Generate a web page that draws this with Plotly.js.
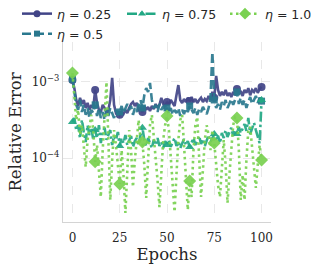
<!DOCTYPE html>
<html><head><meta charset="utf-8">
<script src="https://cdn.plot.ly/plotly-3.0.1.min.js"></script>
<style>html,body{margin:0;padding:0;background:#fff}</style>
</head><body><div id="chart" style="width:319px;height:266px"></div>
<script>
const epochs = Array.from({length: 101}, (_, i) => i);
const markIdx = [0, 12, 25, 37, 50, 62, 75, 87, 100];
const labels = ['<i>η</i> = 0.25', '<i>η</i> = 0.5', '<i>η</i> = 0.75', '<i>η</i> = 1.0'];
const eta025 = [1.06e-3,8.3e-4,5.8e-4,4.83e-4,6.2e-4,5.14e-4,5.8e-4,4.55e-4,5.3e-4,4.3e-4,
5.0e-4,4.55e-4,7.85e-4,5.3e-4,4.3e-4,4.03e-4,5.0e-4,4.55e-4,3.9e-4,4.3e-4,
5.8e-4,1.13e-3,5.0e-4,3.9e-4,4.03e-4,3.7e-4,4.03e-4,3.79e-4,4.3e-4,3.9e-4,
4.55e-4,5.14e-4,5.45e-4,4.83e-4,5.3e-4,4.3e-4,4.55e-4,4.03e-4,4.83e-4,4.3e-4,
4.69e-4,4.15e-4,4.83e-4,4.41e-4,5.14e-4,4.55e-4,5.0e-4,6.2e-4,5.14e-4,4.69e-4,
5.45e-4,5.0e-4,5.8e-4,5.3e-4,4.83e-4,6.7e-4,9.1e-4,5.8e-4,5.3e-4,5.97e-4,
5.45e-4,6.2e-4,5.6e-4,6.35e-4,5.45e-4,5.97e-4,5.3e-4,5.8e-4,6.2e-4,5.45e-4,
5.97e-4,5.6e-4,6.55e-4,5.8e-4,7.4e-4,6.2e-4,1.2e-3,7.85e-4,6.55e-4,7.4e-4,
6.7e-4,7.85e-4,6.55e-4,7.2e-4,6.35e-4,7.4e-4,6.7e-4,8.1e-4,6.95e-4,7.6e-4,
6.55e-4,7.85e-4,7.2e-4,8.3e-4,6.7e-4,7.85e-4,7.4e-4,8.3e-4,7.2e-4,8.1e-4,8.6e-4];
const eta05 = [1.09e-3,6.7e-4,5.0e-4,4.3e-4,5.8e-4,4.03e-4,5.0e-4,3.7e-4,4.55e-4,3.36e-4,
4.3e-4,3.9e-4,5.0e-4,3.57e-4,4.55e-4,3.36e-4,4.03e-4,3.16e-4,4.3e-4,3.57e-4,
4.55e-4,3.9e-4,3.36e-4,4.3e-4,3.7e-4,4.03e-4,4.83e-4,3.9e-4,4.41e-4,5.14e-4,
4.3e-4,4.83e-4,3.7e-4,4.55e-4,4.03e-4,5.14e-4,5.8e-4,4.55e-4,6.7e-4,8.3e-4,
7.4e-4,9.7e-4,5.8e-4,4.55e-4,5.0e-4,4.03e-4,5.14e-4,4.3e-4,4.83e-4,4.03e-4,
4.55e-4,3.79e-4,4.55e-4,3.7e-4,4.3e-4,3.9e-4,4.55e-4,3.57e-4,4.3e-4,3.79e-4,
4.55e-4,4.03e-4,4.83e-4,4.3e-4,3.9e-4,4.55e-4,3.7e-4,4.41e-4,4.03e-4,4.69e-4,
4.3e-4,3.79e-4,4.55e-4,6.2e-4,2.48e-3,5.8e-4,4.55e-4,5.14e-4,4.3e-4,5.45e-4,
4.83e-4,5.8e-4,4.55e-4,5.3e-4,5.97e-4,5.0e-4,5.8e-4,7.4e-4,5.14e-4,6.2e-4,
5.0e-4,5.8e-4,4.55e-4,5.45e-4,6.35e-4,5.14e-4,5.8e-4,6.55e-4,5.3e-4,6.2e-4,5.6e-4];
const eta075 = [2.98e-4,3.36e-4,2.33e-4,2.7e-4,1.83e-4,3.16e-4,2.2e-4,1.62e-4,2.7e-4,2.0e-4,
2.5e-4,1.73e-4,2.33e-4,1.83e-4,2.7e-4,1.57e-4,2.2e-4,2.5e-4,1.73e-4,2.0e-4,
2.33e-4,1.48e-4,1.95e-4,1.73e-4,2.2e-4,1.44e-4,1.83e-4,1.57e-4,2.0e-4,1.48e-4,
1.73e-4,1.95e-4,1.40e-4,1.67e-4,1.83e-4,1.48e-4,2.0e-4,2.5e-4,1.73e-4,1.44e-4,
1.83e-4,1.53e-4,1.35e-4,1.73e-4,1.48e-4,1.83e-4,1.44e-4,1.62e-4,1.35e-4,1.67e-4,
1.48e-4,1.73e-4,1.40e-4,1.62e-4,1.83e-4,1.44e-4,1.67e-4,1.35e-4,1.57e-4,1.78e-4,
1.48e-4,1.67e-4,1.40e-4,1.57e-4,1.83e-4,1.48e-4,1.73e-4,1.95e-4,1.53e-4,1.78e-4,
1.44e-4,1.73e-4,2.0e-4,1.62e-4,1.83e-4,2.07e-4,1.67e-4,1.95e-4,1.57e-4,2.13e-4,
1.83e-4,2.33e-4,1.89e-4,2.2e-4,2.5e-4,1.95e-4,2.33e-4,2.07e-4,2.56e-4,2.13e-4,
2.5e-4,2.8e-4,2.27e-4,3.36e-4,2.07e-4,2.5e-4,2.9e-4,2.33e-4,1.83e-4,1.57e-4,5.8e-4];
const eta10 = [1.31e-3,5.8e-4,3.16e-4,4.3e-4,2.0e-4,2.7e-4,1.27e-4,7.6e-5,1.73e-4,2.7e-4,
3.7e-4,2.33e-4,8.9e-5,1.48e-4,6.0e-5,3.07e-5,1.27e-4,3.16e-4,1.0e-3,1.73e-4,
2.8e-5,9.4e-5,2.33e-4,1.48e-4,8.1e-5,4.55e-5,1.27e-4,6.0e-5,1.89e-5,6.95e-5,
2.33e-4,1.27e-4,4.15e-5,9.4e-5,2.0e-4,3.16e-4,1.73e-4,1.62e-4,8.1e-5,2.98e-5,
9.4e-5,2.7e-4,3.7e-4,2.0e-4,9.4e-5,5.1e-5,2.26e-5,6.95e-5,1.73e-4,2.7e-4,
3.57e-4,2.33e-4,9.4e-5,3.8e-5,1.95e-5,6.0e-5,1.73e-4,3.16e-4,3.7e-4,1.48e-4,
6.0e-5,2.07e-5,4.98e-5,3.07e-5,1.27e-4,2.7e-4,3.46e-4,9.4e-5,3.07e-5,6.95e-5,
1.73e-4,2.7e-4,2.0e-4,1.27e-4,2.33e-4,1.57e-4,8.1e-5,4.4e-5,3.07e-5,6.95e-5,
1.73e-4,8.1e-5,2.56e-5,6.0e-5,1.48e-4,2.7e-4,3.46e-4,3.36e-4,1.27e-4,2.8e-5,
6.0e-5,2.8e-5,9.4e-5,2.33e-4,2.56e-4,1.48e-4,6.95e-5,4.03e-5,8.1e-5,1.48e-4,9.4e-5];

const series = [eta025, eta05, eta075, eta10];
const colors = ['#414487', '#2a788e', '#22a884', '#7ad151'];
const dashes = ['solid', '9px,4px', '10px,3px,2.5px,3px', '2.5px,3.5px'];
const symbols = ['circle', 'square', 'triangle-up', 'diamond'];
const msizes = [8, 7, 8, 10];
const legendNames = ['legend', 'legend2', 'legend3', 'legend4'];

const traces = [];
series.forEach((s, k) => {
  traces.push({x: epochs, y: s, type: 'scatter', mode: 'lines', showlegend: false,
    line: {color: colors[k], width: 2.6, dash: dashes[k]}, opacity: 0.92});
  traces.push({x: markIdx.map(i => epochs[i]), y: markIdx.map(i => s[i]), type: 'scatter',
    mode: 'markers', showlegend: false,
    marker: {color: colors[k], symbol: symbols[k], size: msizes[k]}, opacity: 0.92});
});
series.forEach((s, k) => {
  traces.push({x: [null], y: [null], type: 'scatter', mode: 'lines+markers', name: labels[k],
    legend: legendNames[k], showlegend: true,
    line: {color: colors[k], width: 2.5, dash: dashes[k]},
    marker: {color: colors[k], symbol: symbols[k], size: msizes[k] - 1}});
});

const W = 208, H = 180, L = 63, T = 42;
function lx(px) { return (px - L) / W; }
function ly(py) { return 1 - (py - T) / H; }
const legBase = {xanchor: 'left', yanchor: 'middle', bgcolor: 'rgba(0,0,0,0)',
  font: {family: 'DejaVu Sans', size: 12.5, color: '#262626'}, itemwidth: 30, borderwidth: 0};

const serif = 'DejaVu Serif';
const layout = {
  width: 319, height: 266,
  margin: {l: L, r: 319 - L - W, t: T, b: 266 - T - H, autoexpand: false},
  paper_bgcolor: '#ffffff', plot_bgcolor: '#ffffff',
  xaxis: {range: [-5, 105], tickvals: [0, 25, 50, 75, 100], ticks: '',
    showline: true, linecolor: '#d4d4d4', linewidth: 1.3, mirror: false,
    showgrid: true, gridcolor: '#e8e8e8', griddash: 'dash', gridwidth: 1, zeroline: false,
    tickfont: {family: serif, size: 12, color: '#262626'}, automargin: false, ticklabelstandoff: 4,
    title: {text: 'Epochs', font: {family: serif, size: 16.5, color: '#262626'}, standoff: 4}},
  yaxis: {type: 'log', range: [-4.842, -2.474], tickvals: [1e-4, 1e-3],
    ticktext: ['10<sup>−4</sup>', '10<sup>−3</sup>'], ticks: '',
    showline: true, linecolor: '#d4d4d4', linewidth: 1.3, automargin: false,
    showgrid: true, gridcolor: '#e8e8e8', griddash: 'dash', gridwidth: 1, zeroline: false,
    tickfont: {family: serif, size: 12, color: '#262626'},
    title: {text: 'Relative Error', font: {family: serif, size: 16.5, color: '#262626'}, standoff: 6}},
  legend: Object.assign({}, legBase, {x: lx(17), y: ly(14)}),
  legend2: Object.assign({}, legBase, {x: lx(17), y: ly(34)}),
  legend3: Object.assign({}, legBase, {x: lx(122), y: ly(14)}),
  legend4: Object.assign({}, legBase, {x: lx(225), y: ly(14)}),
  showlegend: true
};
Plotly.newPlot('chart', traces, layout, {staticPlot: true, displayModeBar: false});
</script></body></html>
